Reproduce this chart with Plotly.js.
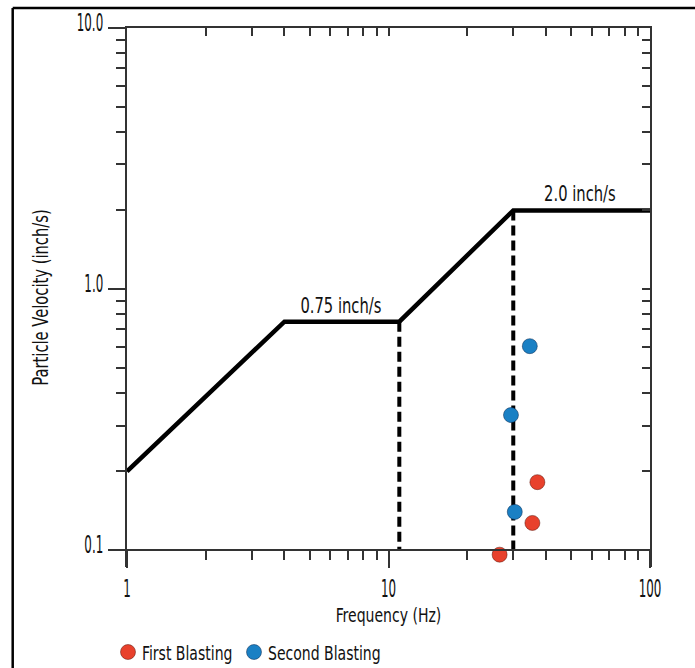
<!DOCTYPE html>
<html><head><meta charset="utf-8">
<script src="https://cdn.plot.ly/plotly-3.0.1.min.js"></script>
<style>html,body{margin:0;padding:0;background:#fff}#chart{width:695px;height:668px}</style>
</head><body><div id="chart"></div>
<script>
// ---- data ----
const curveFreq = [1, 4, 11, 30, 100];
const curveVel  = [0.2, 0.75, 0.75, 2.0, 2.0];
const limit1Freq = [11, 11];
const limit1Vel  = [0.75, 0.1];
const limit2Freq = [30, 30];
const limit2Vel  = [2.0, 0.1];
const firstFreq  = [37.1, 35.5, 26.6];
const firstVel   = [0.182, 0.127, 0.096];
const secondFreq = [34.7, 29.4, 30.4];
const secondVel  = [0.604, 0.329, 0.140];
const xTickVals = [1, 10, 100];
const xTickText = ['1', '10', '100'];
const yTickVals = [0.1, 1, 10];
const yTickText = ['0.1', '1.0', '10.0'];
const xMinor = [2,3,4,5,6,7,8,9,20,30,40,50,60,70,80,90];
const yMinor = [0.2,0.3,0.4,0.5,0.6,0.7,0.8,0.9,2,3,4,5,6,7,8,9];
const xTopTicks = [2,3,4,5,6,7,8,9,10,20,30,40,50,60,70,80,90];
const yRightTicks = [0.2,0.3,0.4,0.5,0.6,0.7,0.8,0.9,1,2,3,4,5,6,7,8,9];
const labelText = ['0.75 inch/s', '2.0 inch/s'];
const labelFreq = [6.6, 54];
const labelVel  = [0.75, 2.0];

const FONT = '"DejaVu Sans Condensed", "DejaVu Sans", sans-serif';
const AX = '#333';
const TXT = '#111';
// the y axis runs a little below 0.1 so the axis lines extend past the corner
const yLow = -1.065, yHigh = 1;
const xPos = (-1 - yLow) / (yHigh - yLow);

const traces = [
  {x: curveFreq, y: curveVel, mode: 'lines', line: {color: '#000', width: 4.5}, showlegend: false, hoverinfo: 'skip'},
  {x: limit1Freq, y: limit1Vel, mode: 'lines', line: {color: '#000', width: 4, dash: '10px,5px'}, showlegend: false, hoverinfo: 'skip'},
  {x: limit2Freq, y: limit2Vel, mode: 'lines', line: {color: '#000', width: 4, dash: '10px,5px'}, showlegend: false, hoverinfo: 'skip'},
  {x: firstFreq, y: firstVel, mode: 'markers', name: 'First Blasting',
   marker: {color: '#e8412c', size: 15, line: {color: 'rgba(90,20,10,0.5)', width: 1}}},
  {x: secondFreq, y: secondVel, mode: 'markers', name: 'Second Blasting',
   marker: {color: '#1a80c4', size: 15, line: {color: 'rgba(10,40,80,0.5)', width: 1}}},
  {x: [], y: [], xaxis: 'x2', yaxis: 'y2', showlegend: false, hoverinfo: 'skip'}
];

const annotations = labelText.map((t, i) => ({
  x: Math.log10(labelFreq[i]), y: Math.log10(labelVel[i]), xref: 'x', yref: 'y',
  text: t, showarrow: false, xanchor: 'center', yanchor: 'bottom', yshift: 2,
  font: {family: FONT, size: 21, color: TXT}
}));

const frameY = (567 - 8) / 539, frameX = (12.7 - 127) / 523;

const layout = {
  width: 695, height: 668,
  margin: {l: 127, r: 45, t: 28, b: 101},
  paper_bgcolor: '#fff', plot_bgcolor: '#fff',
  font: {family: FONT, size: 20, color: TXT},
  xaxis: {
    type: 'log', range: [0, 2], showgrid: false, zeroline: false,
    anchor: 'free', position: xPos,
    showline: true, linecolor: AX, linewidth: 2,
    tickmode: 'array', tickvals: xTickVals, ticktext: xTickText,
    ticks: 'outside', ticklen: 17, tickwidth: 2, tickcolor: AX,
    tickfont: {family: FONT, size: 24, color: TXT},
    minor: {tickmode: 'array', tickvals: xMinor, ticks: 'outside', ticklen: 9, tickwidth: 2, tickcolor: AX, showgrid: false},
    title: {text: 'Frequency (Hz)', font: {family: FONT, size: 20, color: TXT}, standoff: 4}
  },
  yaxis: {
    type: 'log', range: [yLow, yHigh], showgrid: false, zeroline: false,
    showline: true, linecolor: AX, linewidth: 2,
    tickmode: 'array', tickvals: yTickVals, ticktext: yTickText,
    ticks: 'outside', ticklen: 17, tickwidth: 2, tickcolor: AX,
    tickfont: {family: FONT, size: 24, color: TXT},
    minor: {tickmode: 'array', tickvals: yMinor, ticks: 'outside', ticklen: 9, tickwidth: 2, tickcolor: AX, showgrid: false},
    title: {text: 'Particle Velocity (inch/s)', font: {family: FONT, size: 21, color: TXT}, standoff: 1}
  },
  xaxis2: {
    type: 'log', range: [0, 2], overlaying: 'x', anchor: 'y2', side: 'top',
    showgrid: false, zeroline: false, showline: true, linecolor: AX, linewidth: 2,
    tickmode: 'array', tickvals: xTopTicks, ticks: 'inside', ticklen: 8, tickwidth: 2, tickcolor: AX,
    showticklabels: false
  },
  yaxis2: {
    type: 'log', range: [yLow, yHigh], overlaying: 'y', anchor: 'x2', side: 'right',
    showgrid: false, zeroline: false, showline: true, linecolor: AX, linewidth: 2,
    tickmode: 'array', tickvals: yRightTicks, ticks: 'inside', ticklen: 8, tickwidth: 2, tickcolor: AX,
    showticklabels: false
  },
  legend: {
    orientation: 'h', xref: 'container', yref: 'container',
    x: 108 / 695, y: (668 - 652) / 668, xanchor: 'left', yanchor: 'middle',
    font: {family: FONT, size: 20, color: TXT}, itemsizing: 'trace', bgcolor: 'rgba(0,0,0,0)',
    entrywidth: 81, entrywidthmode: 'pixels'
  },
  annotations: annotations,
  shapes: [
    {type: 'line', xref: 'paper', yref: 'paper', x0: frameX, x1: frameX, y0: frameY, y1: -0.3, line: {color: '#000', width: 2.5}},
    {type: 'line', xref: 'paper', yref: 'paper', x0: frameX, x1: 1.2, y0: frameY, y1: frameY, line: {color: '#000', width: 2.5}}
  ],
  showlegend: true
};

// narrow the lettering horizontally (the reference uses a tall condensed face)
function condense() {
  document.querySelectorAll('#chart svg text').forEach(t => {
    const isTick = !!t.closest('.xtick, .ytick');
    const s = isTick ? 0.55 : 0.78;
    const x = parseFloat(t.getAttribute('x') || 0), y = parseFloat(t.getAttribute('y') || 0);
    const tr = t.getAttribute('transform') || '';
    let extra = '';
    if (t.classList.contains('legendtext')) extra = ' translate(-6,0)';
    else if (t.closest('.ytick')) extra = ' translate(0,-5)';
    t.setAttribute('transform', tr + extra + ' translate(' + x + ',' + y + ') scale(' + s + ',1) translate(' + (-x) + ',' + (-y) + ')');
  });
  document.querySelectorAll('#chart .legend [clip-path]').forEach(el => el.removeAttribute('clip-path'));
}

Plotly.newPlot('chart', traces, layout, {displayModeBar: false, staticPlot: true}).then(condense);
</script>
</body></html>
